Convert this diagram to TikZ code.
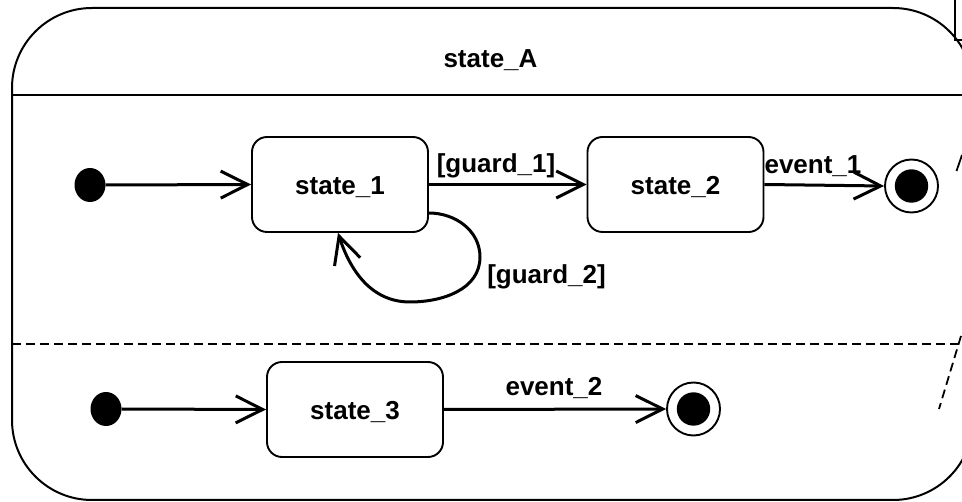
\documentclass[tikz,border=0pt]{standalone}
\usepackage{fontspec}
\setmainfont{Liberation Sans}
\usetikzlibrary{arrows.meta,shapes.geometric,calc}
\begin{document}
\begin{tikzpicture}[x=1pt,y=1pt,
  statebox/.style={draw, line width=1.9pt, rounded corners=15pt, minimum width=176pt, minimum height=95pt, inner sep=0pt, font=\fontsize{26}{30}\selectfont\bfseries, text height=21pt, text depth=0pt},
  initdot/.style={ellipse, fill=black, minimum width=31pt, minimum height=34pt, inner sep=0pt},
  finalring/.style={circle, draw, line width=1.9pt, minimum size=53pt, inner sep=0pt},
  trans/.style={line width=3pt, -{Straight Barb[length=27pt,width=27pt]}},
  lbl/.style={font=\fontsize{26}{30}\selectfont\bfseries, anchor=base, inner sep=0pt},
  region/.style={line width=1.8pt, dash pattern=on 9pt off 5pt}
]
\useasboundingbox (0,0) rectangle (962,-502);
\clip (0,0) rectangle (962,-502);
% composite state
\draw[line width=2pt, rounded corners=80pt] (12,-8) rectangle (973,-500);
\draw[line width=2.6pt] (12,-95) -- (973,-95);
\node[lbl] (title) at (490.5,-68) {state\_A};
\draw[region] (12,-344) -- (962,-344);
% fragments at right edge
\draw[line width=1.7pt] (955,0) -- (955,-40) -- (970,-40);
\draw[line width=1.8pt] (962,-155) -- (956.5,-171);
\draw[region] (961,-336) -- (939,-409);
% region 1
\node[initdot] (i1) at (90,-185) {};
\node[statebox] (s1) at (340,-184.5) {state\_1};
\node[statebox] (s2) at (675.5,-184.5) {state\_2};
\node[finalring] (f1) at (911.5,-186) {};
\fill (f1.center) circle (16.7pt);
\draw[trans] (i1.east) -- (s1.west);
\draw[trans] (s1.east) -- (s2.west);
\node[lbl] (g1) at (496,-172.5) {[guard\_1]};
\draw[trans] (s2.east) -- (f1.west);
\node[lbl] (e1) at (813,-174) {event\_1};
\coordinate (loopstart) at ($(s1.east)+(0,-28.5)$);
\coordinate (loopend) at ($(s1.south)+(-2,0)$);
\draw[trans] (loopstart) to[out=0,in=90] (480,-257) to[out=-90,in=0] (410,-302) to[out=180,in=-72] (loopend);
\node[lbl] (g2) at (546.5,-284) {[guard\_2]};
% region 2
\node[initdot] (i2) at (106,-409) {};
\node[statebox] (s3) at (355,-409.5) {state\_3};
\node[finalring] (f2) at (693.5,-409) {};
\fill (f2.center) circle (16.7pt);
\draw[trans] (i2.east) -- (s3.west);
\draw[trans] (s3.east) -- (f2.west);
\node[lbl] (e2) at (554,-396) {event\_2};
\end{tikzpicture}
\end{document}
